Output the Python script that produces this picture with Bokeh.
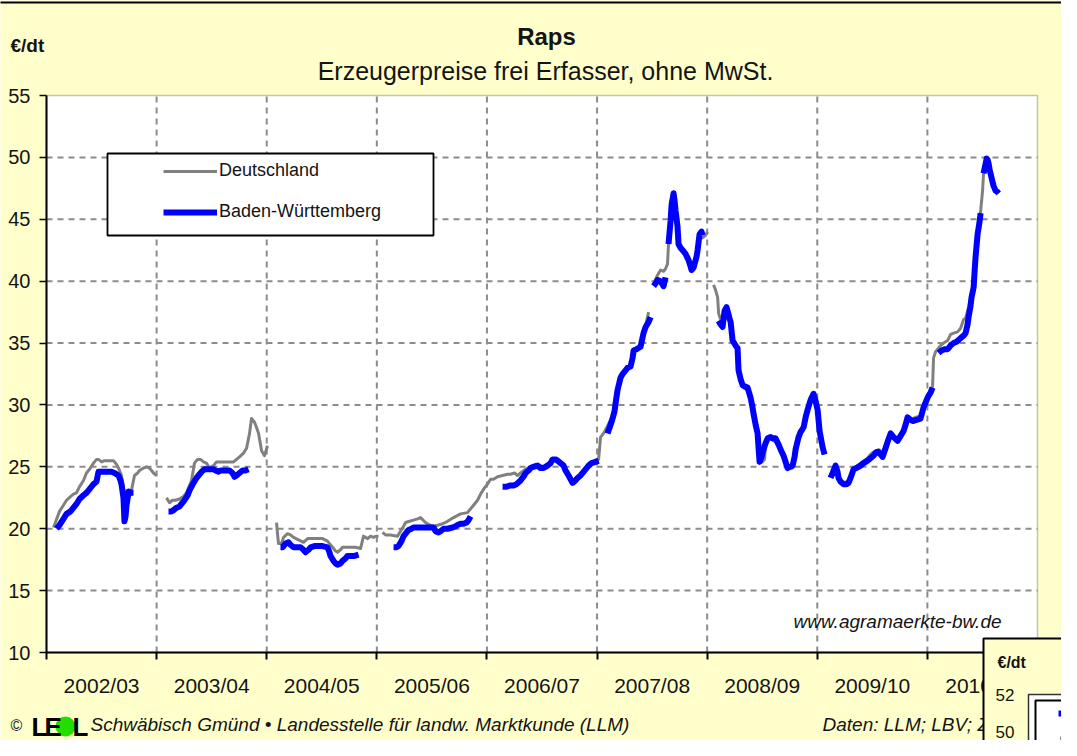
import numpy as np
from bokeh.plotting import figure
from bokeh.models import (Range1d, FixedTicker, Label, Legend, LegendItem, BoxAnnotation,
                          LinearAxis)
from bokeh.embed import file_html
from bokeh.resources import INLINE

# ---------------- data ----------------
# x: years since 1 July 2002 (start of marketing year 2002/03)
season_labels = ["2002/03", "2003/04", "2004/05", "2005/06", "2006/07",
                 "2007/08", "2008/09", "2009/10", "2010/11"]
y_ticks = [10, 15, 20, 25, 30, 35, 40, 45, 50, 55]

# Deutschland (grey)
de_t = [
    [.064, .118, .154, .182, .218, .245, .272, .300, .336, .363, .391, .427, .454, .472, .500, .527, .563,
     .609, .636, .654, .681, .699, .718, .736, .754, .772, .799, .827, .845, .881, .908, .936, .972, .999],
    [1.090, 1.117, 1.144, 1.172, 1.208, 1.244, 1.272, 1.299, 1.317, 1.344, 1.371, 1.399, 1.426, 1.453, 1.480,
     1.517, 1.544, 1.599, 1.653, 1.698, 1.726, 1.753, 1.789, 1.817, 1.844, 1.862, 1.889, 1.907, 1.926, 1.953,
     1.980, 2.007],
    [2.089, 2.098, 2.107, 2.134, 2.153, 2.189, 2.216, 2.243, 2.289, 2.334, 2.371, 2.398, 2.452, 2.507, 2.552,
     2.579, 2.598, 2.625, 2.643, 2.670, 2.688, 2.725, 2.761, 2.807, 2.852, 2.879, 2.897, 2.916, 2.943, 2.970,
     2.997, 3.015],
    [3.052, 3.079, 3.124, 3.188, 3.215, 3.243, 3.261, 3.297, 3.333, 3.370, 3.397, 3.442, 3.479, 3.515, 3.560,
     3.597, 3.642, 3.697, 3.760, 3.824, 3.851, 3.878, 3.915, 3.942, 3.978, 4.005, 4.033, 4.060, 4.096, 4.142,
     4.187, 4.214, 4.251, 4.278, 4.305, 4.351, 4.396, 4.441, 4.487, 4.532, 4.578, 4.596, 4.641, 4.669, 4.696,
     4.723, 4.741, 4.777, 4.805, 4.823, 4.850, 4.877, 4.905, 4.923, 4.959, 4.986, 5.014, 5.032, 5.059, 5.077,
     5.095, 5.123, 5.141, 5.168, 5.186, 5.213, 5.232, 5.259, 5.286, 5.304, 5.332, 5.359, 5.395, 5.422, 5.441,
     5.468],
    [5.513, 5.550, 5.577, 5.604, 5.622, 5.640, 5.649, 5.668, 5.695, 5.713, 5.731, 5.740, 5.777, 5.804, 5.831,
     5.858, 5.886, 5.913, 5.931, 5.958, 5.985, 6.004],
    [6.058, 6.076, 6.095, 6.104, 6.122, 6.140, 6.158, 6.185, 6.213, 6.231, 6.258, 6.276, 6.285, 6.303, 6.322,
     6.349, 6.367, 6.394, 6.421, 6.440, 6.458, 6.476, 6.503, 6.521, 6.530, 6.558, 6.576, 6.603, 6.621, 6.649,
     6.667, 6.694, 6.712, 6.730, 6.758, 6.776, 6.803, 6.830, 6.848, 6.876, 6.894, 6.912, 6.939, 6.966, 6.985,
     7.003, 7.021, 7.048, 7.066],
    [7.112, 7.139, 7.166, 7.193, 7.212, 7.239, 7.266, 7.284, 7.312, 7.330, 7.366, 7.393, 7.430, 7.457, 7.484,
     7.511, 7.539, 7.557, 7.593, 7.620, 7.638, 7.666, 7.693, 7.729, 7.757, 7.784, 7.820, 7.847, 7.866, 7.893,
     7.938, 7.965, 8.002, 8.029, 8.047, 8.056, 8.074, 8.093, 8.120, 8.147, 8.184, 8.211, 8.238, 8.274, 8.302,
     8.329, 8.347, 8.374, 8.401, 8.420, 8.438, 8.456, 8.483, 8.501, 8.510, 8.538, 8.556, 8.574, 8.601, 8.620,
     8.647],
]
de_v = [
    [20.1, 21.4, 21.9, 22.3, 22.6, 22.8, 22.9, 23.4, 23.9, 24.5, 24.8, 25.3, 25.6, 25.6, 25.4, 25.5, 25.5,
     25.5, 25.2, 24.9, 24.3, 23.3, 22.6, 22.4, 22.6, 23.1, 24.3, 24.5, 24.7, 24.9, 25.0, 24.9, 24.5, 24.3],
    [22.5, 22.1, 22.3, 22.3, 22.4, 22.6, 22.9, 23.5, 23.9, 25.3, 25.6, 25.6, 25.4, 25.3, 24.9,
     25.1, 25.4, 25.4, 25.4, 25.4, 25.6, 25.8, 26.1, 26.5, 27.7, 28.9, 28.6, 28.2, 27.7, 26.3,
     25.9, 26.7],
    [20.5, 19.6, 18.8, 18.8, 19.3, 19.6, 19.5, 19.3, 19.1, 18.9, 19.2, 19.2, 19.2, 19.2, 19.0,
     18.7, 18.5, 18.2, 18.1, 18.3, 18.5, 18.5, 18.5, 18.5, 18.4, 19.4, 19.3, 19.2, 19.4, 19.3,
     19.4, 19.4],
    [19.7, 19.5, 19.5, 19.4, 19.8, 20.2, 20.5, 20.6, 20.7, 20.8, 20.9, 20.5, 20.3, 20.2, 20.3,
     20.4, 20.6, 20.9, 21.2, 21.3, 21.6, 21.9, 22.3, 22.8, 23.3, 23.6, 24.0, 24.0, 24.2, 24.3,
     24.4, 24.4, 24.5, 24.3, 24.5, 24.8, 25.0, 25.2, 25.1, 25.0, 25.4, 25.6, 25.5, 25.4, 25.1,
     24.7, 24.3, 23.8, 24.0, 24.2, 24.4, 24.7, 24.9, 25.1, 25.3, 25.4, 25.6, 27.4, 27.7, 28.0,
     28.3, 28.8, 29.2, 30.3, 31.3, 32.3, 32.6, 32.9, 33.1, 33.2, 34.5, 34.6, 34.8, 35.9, 36.4,
     37.5],
    [39.8, 40.5, 40.9, 40.8, 41.0, 41.4, 43.0, 44.9, 47.1, 45.7, 44.4, 43.0, 42.5, 42.2, 41.7,
     40.9, 41.4, 42.5, 43.8, 43.5, 43.7, 44.0],
    [39.7, 39.3, 38.7, 37.4, 36.9, 36.3, 37.6, 37.6, 36.7, 35.2, 34.8, 34.6, 32.8, 32.0, 31.6,
     31.3, 31.2, 30.6, 29.3, 28.3, 27.7, 25.4, 25.4, 25.6, 26.9, 27.4, 27.4, 27.1, 27.0, 26.6,
     26.2, 25.6, 25.3, 24.9, 25.0, 25.1, 26.4, 27.4, 27.7, 28.2, 29.0, 29.6, 30.3, 30.9, 30.2,
     29.6, 27.9, 26.6, 26.0],
    [24.2, 24.6, 25.1, 24.2, 23.8, 23.7, 23.8, 23.9, 24.4, 24.9, 25.1, 25.3, 25.5, 25.7, 26.0,
     26.2, 26.3, 26.4, 26.1, 26.8, 27.2, 27.7, 27.5, 27.3, 27.7, 28.1, 29.0, 28.9, 28.9, 29.0,
     29.1, 29.9, 30.7, 31.2, 31.5, 33.8, 34.3, 34.5, 34.8, 35.0, 35.2, 35.7, 35.8, 35.9, 36.2,
     36.9, 37.0, 37.9, 39.0, 39.8, 42.0, 43.9, 45.6, 47.3, 48.7, 49.9, 49.5, 48.7, 47.7, 47.3,
     47.1],
]

# Baden-Württemberg (blue)
bw_t = [
    [.091, .118, .154, .182, .218, .245, .272, .300, .336, .363, .391, .427, .454, .472, .500,
     .527, .563, .590, .618, .654, .672, .681, .699, .708, .718, .727, .745, .772, .790],
    [1.108, 1.135, 1.154, 1.181, 1.208, 1.235, 1.253, 1.281, 1.299, 1.317, 1.335, 1.362, 1.390, 1.408, 1.435,
     1.471, 1.517, 1.535, 1.562, 1.580, 1.608, 1.635, 1.662, 1.689, 1.708, 1.726, 1.753, 1.780, 1.807, 1.835],
    [2.125, 2.144, 2.171, 2.198, 2.216, 2.243, 2.271, 2.307, 2.334, 2.352, 2.380, 2.398, 2.434, 2.470, 2.507,
     2.552, 2.570, 2.579, 2.607, 2.625, 2.643, 2.670, 2.688, 2.716, 2.734, 2.761, 2.797, 2.834],
    [3.152, 3.179, 3.197, 3.224, 3.243, 3.270, 3.288, 3.315, 3.333, 3.370, 3.406, 3.433, 3.461, 3.488, 3.515,
     3.533, 3.560, 3.579, 3.606, 3.642, 3.688, 3.715, 3.733, 3.760, 3.788, 3.815, 3.833, 3.851],
    [4.142, 4.178, 4.214, 4.242, 4.269, 4.305, 4.332, 4.351, 4.378, 4.396, 4.423, 4.460, 4.487, 4.514, 4.550,
     4.578, 4.596, 4.623, 4.641, 4.669, 4.696, 4.714, 4.741, 4.759, 4.777, 4.805, 4.823, 4.850, 4.877, 4.905,
     4.923, 4.950, 4.986, 5.014],
    [5.095, 5.123, 5.141, 5.159, 5.168, 5.186, 5.213, 5.232, 5.259, 5.277, 5.304, 5.323, 5.332, 5.359, 5.395,
     5.422, 5.441, 5.468, 5.486],
    [5.513, 5.531, 5.550, 5.577, 5.604, 5.622],
    [5.649, 5.668, 5.677, 5.695, 5.704, 5.713, 5.731, 5.740, 5.758, 5.777, 5.804, 5.831, 5.849, 5.858, 5.877,
     5.886, 5.904, 5.913, 5.931, 5.949, 5.958],
    [6.104, 6.122, 6.140, 6.158, 6.176, 6.185, 6.203, 6.213, 6.231, 6.258, 6.276, 6.285, 6.303, 6.322, 6.340,
     6.367, 6.394, 6.412, 6.421, 6.440, 6.458, 6.467, 6.476, 6.494, 6.512, 6.530, 6.549, 6.576, 6.594, 6.621,
     6.649, 6.667, 6.694, 6.712, 6.730, 6.758, 6.776, 6.794, 6.803, 6.830, 6.848, 6.876, 6.894, 6.912, 6.939,
     6.966, 6.985, 7.003, 7.021, 7.048, 7.066],
    [7.121, 7.139, 7.166, 7.184, 7.193, 7.212, 7.239, 7.266, 7.284, 7.302, 7.330, 7.357, 7.393, 7.421, 7.457,
     7.484, 7.511, 7.539, 7.557, 7.575, 7.593, 7.620, 7.638, 7.666, 7.693, 7.729, 7.757, 7.784, 7.802, 7.820,
     7.847, 7.866, 7.902, 7.938, 7.965, 7.984, 8.002, 8.029, 8.047],
    [8.102, 8.129, 8.156, 8.184, 8.211, 8.238, 8.265, 8.302, 8.329, 8.347, 8.365, 8.374, 8.392, 8.401, 8.420,
     8.429, 8.438, 8.456, 8.474, 8.483],
    [8.510, 8.529, 8.538, 8.547, 8.556, 8.565, 8.574, 8.592, 8.601, 8.620, 8.638, 8.647],
]
bw_v = [
    [20.0, 20.3, 20.8, 21.2, 21.4, 21.7, 22.0, 22.4, 22.7, 22.9, 23.2, 23.6, 23.8, 24.6, 24.6,
     24.6, 24.6, 24.6, 24.5, 24.3, 23.9, 23.6, 22.5, 20.6, 21.0, 21.9, 23.0, 22.9, 22.9],
    [21.4, 21.4, 21.5, 21.7, 21.8, 22.1, 22.3, 22.7, 23.1, 23.4, 23.7, 24.1, 24.4, 24.6, 24.8,
     24.8, 24.8, 24.7, 24.6, 24.7, 24.7, 24.7, 24.7, 24.5, 24.2, 24.3, 24.5, 24.7, 24.7, 24.8],
    [18.5, 18.5, 18.8, 18.9, 18.7, 18.5, 18.5, 18.5, 18.3, 18.1, 18.3, 18.5, 18.6, 18.6, 18.6,
     18.5, 18.1, 17.8, 17.4, 17.2, 17.1, 17.2, 17.4, 17.6, 17.8, 17.8, 17.8, 17.9],
    [18.5, 18.5, 18.6, 19.0, 19.4, 19.7, 19.9, 20.0, 20.1, 20.1, 20.1, 20.1, 20.1, 20.1, 20.1,
     19.8, 19.7, 19.8, 20.0, 20.0, 20.1, 20.2, 20.3, 20.4, 20.4, 20.5, 20.7, 21.0],
    [23.4, 23.4, 23.5, 23.5, 23.6, 23.9, 24.2, 24.5, 24.7, 24.9, 25.0, 25.1, 24.9, 24.9, 25.1,
     25.3, 25.6, 25.6, 25.5, 25.3, 25.1, 24.7, 24.3, 24.0, 23.7, 23.9, 24.1, 24.3, 24.6, 24.9,
     25.1, 25.3, 25.4, 25.5],
    [27.7, 28.4, 28.9, 29.5, 30.1, 31.2, 32.2, 32.5, 32.8, 33.0, 33.1, 33.8, 34.4, 34.5, 34.7,
     35.8, 36.3, 36.7, 37.1],
    [39.6, 39.8, 40.1, 40.0, 39.6, 40.3],
    [43.0, 44.9, 46.2, 47.1, 46.5, 45.7, 44.4, 43.0, 42.7, 42.5, 42.2, 41.7, 41.2, 40.9, 41.1,
     41.4, 42.0, 42.5, 43.8, 44.0, 43.7],
    [36.8, 36.5, 36.3, 37.6, 37.9, 37.6, 37.0, 36.7, 35.2, 34.8, 34.6, 32.8, 32.1, 31.6, 31.5,
     31.4, 30.6, 29.8, 29.3, 28.4, 27.7, 26.5, 25.4, 25.8, 26.4, 26.9, 27.3, 27.4, 27.3, 27.3,
     26.8, 26.4, 25.9, 25.4, 24.9, 25.0, 25.1, 25.8, 26.4, 27.4, 27.8, 28.2, 29.0, 29.6, 30.4,
     30.9, 30.3, 29.6, 27.9, 26.6, 26.0],
    [24.1, 24.5, 25.1, 24.6, 24.1, 23.8, 23.6, 23.6, 23.7, 24.1, 24.8, 24.9, 25.1, 25.3, 25.5,
     25.7, 25.9, 26.2, 26.2, 26.0, 25.8, 26.5, 27.0, 27.7, 27.4, 27.1, 27.5, 27.9, 28.4, 29.0,
     28.8, 28.7, 28.8, 28.9, 29.8, 30.2, 30.6, 31.0, 31.4],
    [34.2, 34.4, 34.5, 34.5, 34.8, 35.0, 35.1, 35.4, 35.6, 35.8, 36.5, 37.1, 38.0, 38.7, 39.5,
     40.8, 42.0, 43.8, 44.8, 45.5],
    [48.7, 49.5, 49.9, 49.8, 49.5, 49.0, 48.7, 48.0, 47.7, 47.3, 47.2, 47.1],
]


def join(segs):
    out = []
    for i, s in enumerate(segs):
        if i:
            out.append(np.nan)
        out.extend(s)
    return out


for a, b in list(zip(de_t, de_v)) + list(zip(bw_t, bw_v)):
    assert len(a) == len(b), (len(a), len(b))

FONT = "Liberation Sans"
TXT = "#141414"
W, H = 1061, 740
# plot-area placement on the canvas (pixels)
PL, PT, PR, PB = 46, 95, 1037, 652
X0, X1 = 0.0, float(len(season_labels))
Y0, Y1 = float(y_ticks[0]), float(y_ticks[-1])
sx = (PR - PL) / (X1 - X0)
sy = (PB - PT) / (Y1 - Y0)

p = figure(width=W, height=H, output_backend="svg", toolbar_location=None,
           x_range=Range1d(X0 - PL / sx, X1 + (W - PR) / sx),
           y_range=Range1d(Y0 - (H - PB) / sy, Y1 + PT / sy),
           x_axis_location=None, y_axis_location=None,
           min_border=0, background_fill_color="#FFFFCC", border_fill_color="#FFFFCC")
p.outline_line_color = None
p.grid.visible = False

# white plot area
p.add_layout(BoxAnnotation(left=X0, right=X1, bottom=Y0, top=Y1, fill_color="white", fill_alpha=1,
                           line_color="#3a3a3a", line_width=1.5, level="underlay"))

# grid lines (dashed grey) at year boundaries and y ticks
vx = list(range(1, len(season_labels)))
hy = y_ticks[1:-1]
p.segment(x0=vx, y0=[Y0] * len(vx), x1=vx, y1=[Y1] * len(vx),
          line_color="#8c8c8c", line_width=2, line_dash="6 5")
p.segment(x0=[X0] * len(hy), y0=hy, x1=[X1] * len(hy), y1=hy,
          line_color="#8c8c8c", line_width=2, line_dash="6 5")

# axes
xa = LinearAxis(fixed_location=Y0, bounds=(X0, X1))
xa.ticker = FixedTicker(ticks=[k + 0.5 for k in range(len(season_labels))],
                        minor_ticks=list(range(len(season_labels) + 1)))
xa.major_label_overrides = {k + 0.5: lab for k, lab in enumerate(season_labels)}
xa.major_tick_line_color = None
xa.major_tick_out = 0
xa.major_tick_in = 0
xa.minor_tick_out = 7
xa.minor_tick_in = 0
xa.minor_tick_line_color = "black"
xa.minor_tick_line_width = 2
xa.axis_line_color = "black"
xa.axis_line_width = 2
xa.major_label_standoff = 14
xa.major_label_text_font = FONT
xa.major_label_text_font_size = "21px"
xa.major_label_text_color = TXT
p.add_layout(xa, "below")

ya = LinearAxis(fixed_location=X0, bounds=(Y0, Y1))
ya.ticker = FixedTicker(ticks=y_ticks, minor_ticks=[])
ya.major_tick_out = 7
ya.major_tick_in = 0
ya.major_tick_line_color = "black"
ya.major_tick_line_width = 1.5
ya.minor_tick_line_color = None
ya.axis_line_color = "black"
ya.axis_line_width = 2
ya.major_label_standoff = 9
ya.major_label_text_font = FONT
ya.major_label_text_font_size = "20px"
ya.major_label_text_color = TXT
p.add_layout(ya, "left")

# series
r_de = p.line(join(de_t), join(de_v), line_color="#808080", line_width=3, line_join="round")
r_bw = p.line(join(bw_t), join(bw_v), line_color="#0000FF", line_width=6, line_join="round")


# ---------- annotations, positioned in canvas pixels (from top-left) ----------
def lab(text, x, y, size, style="normal", align="left", color=TXT, font=FONT):
    p.add_layout(Label(x=x, y=H - y, x_units="screen", y_units="screen", text=text,
                       text_font=font, text_font_size=f"{size}px", text_font_style=style,
                       text_align=align, text_baseline="middle", text_color=color))


def box(l, t, r, b, fill, line="black", lw=1.5, radius=0, fill_alpha=1.0):
    p.add_layout(BoxAnnotation(left=l, right=r, top=H - t, bottom=H - b,
                               left_units="screen", right_units="screen",
                               top_units="screen", bottom_units="screen",
                               fill_color=fill, fill_alpha=fill_alpha, border_radius=radius,
                               line_color=line if line else "black", line_width=lw,
                               line_alpha=1.0 if line else 0.0))


# legend frame + legend
box(107, 153, 433, 235, "white", "black", 1.8)
legend = Legend(items=[LegendItem(label="Deutschland", renderers=[r_de]),
                       LegendItem(label="Baden-Württemberg", renderers=[r_bw])],
                location=(163, H - 222), glyph_width=54, glyph_height=20, label_height=20,
                label_standoff=2, spacing=20, padding=0, margin=0,
                border_line_color=None, background_fill_alpha=0,
                label_text_font=FONT, label_text_font_size="18px", label_text_color=TXT)
p.add_layout(legend)

# outer chart border (top edge visible)
box(-10, 2, 1071, 800, "white", "black", 2, fill_alpha=0.0)

# titles
lab("Raps", 546, 36, 24, style="bold", align="center")
lab("Erzeugerpreise frei Erfasser, ohne MwSt.", 545, 70, 25, align="center")
lab("€/dt", 10, 45, 19, style="bold")
lab("www.agramaerkte-bw.de", 793, 621, 19, style="italic")

# footer
lab("©", 10, 725, 16)
box(55, 716, 75, 736, "#22DD00", None, 0, radius=10)
lab("L", 31, 726, 26, style="bold", color="black")
lab("E", 44, 726, 26, style="bold", color="black")
lab("L", 72, 726, 26, style="bold", color="black")
lab("Schwäbisch Gmünd • Landesstelle für landw. Marktkunde (LLM)", 90, 724, 19, style="italic")
lab("Daten: LLM; LBV; ZMP", 822, 724, 19, style="italic")

# overlapping second chart in the lower right corner
box(983, 638, 1200, 900, "#FFFFCC", "black", 2)
lab("€/dt", 997, 662, 16, style="bold")
lab("52", 995, 694, 17)
lab("50", 995, 731, 17)
box(1028, 694, 1200, 900, "white", "#333333", 1.5)
box(1035, 700, 1200, 900, "white", "black", 2)
box(1058, 710, 1200, 716, "#0000FF", None, 0)
box(1060, 736, 1200, 740, "#111111", None, 0)

open("out.html", "w").write(file_html(p, INLINE))
